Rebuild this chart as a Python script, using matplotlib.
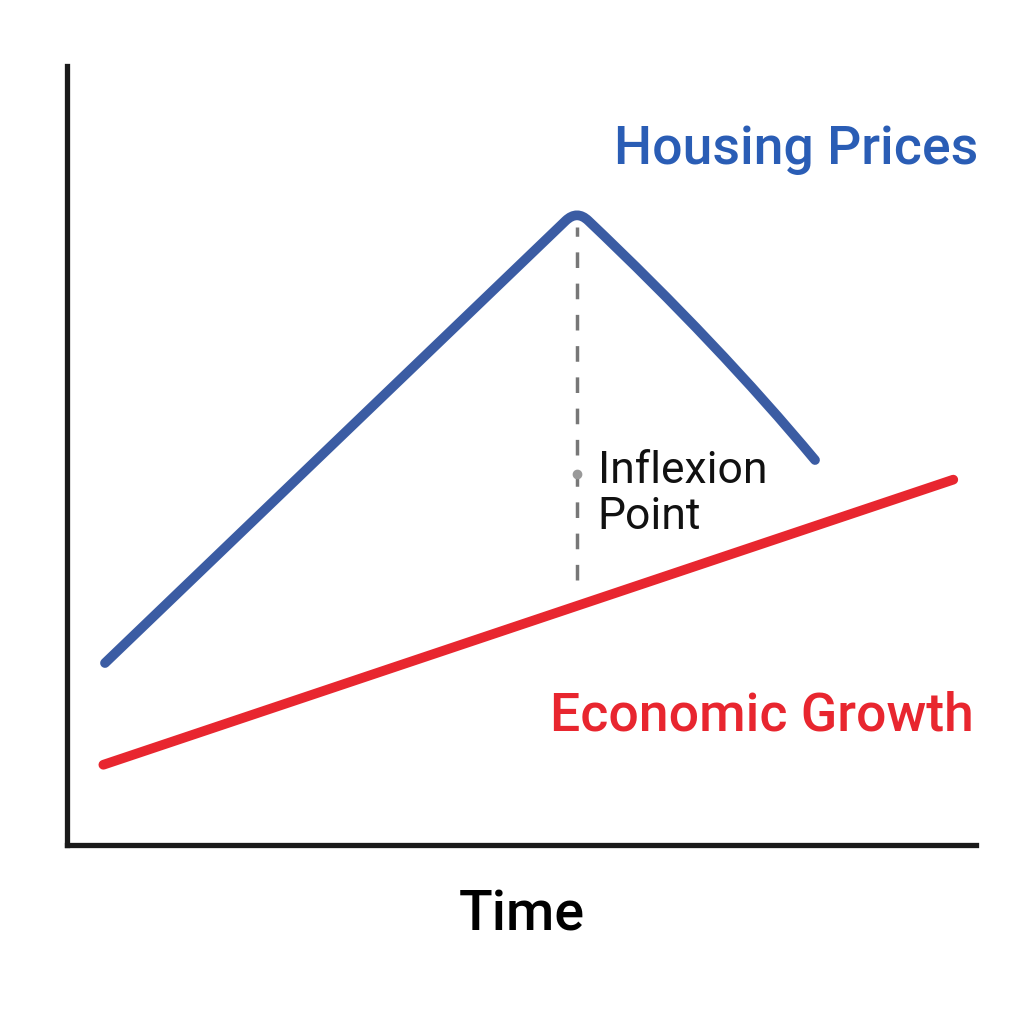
import matplotlib.pyplot as plt
from matplotlib.path import Path
from matplotlib.patches import PathPatch

# housing prices curve (time, value) - straight rise, rounded peak, curved fall
housing_t = [4.18, 54.86, 56.11, 57.35, 71.73, 82.29]
housing_v = [23.36, 80.14, 81.53, 80.14, 64.22, 49.42]
housing_codes = [Path.MOVETO, Path.LINETO, Path.CURVE3, Path.CURVE3,
                 Path.CURVE3, Path.CURVE3]

# economic growth line
growth_t = [4.0, 97.5]
growth_v = [10.3, 46.9]

# inflexion marker
inflex_t = 56.1
inflex_top = 79.3
inflex_bottom = 34.0
inflex_dot = 47.6

plt.rcParams['font.family'] = ['Roboto', 'DejaVu Sans']

fig = plt.figure(figsize=(10.24, 10.24), dpi=100)
ax = fig.add_axes([67/1024, 1-845/1024, (976-67)/1024, (845-66)/1024])
ax.set_xlim(0, 100)
ax.set_ylim(0, 100)

hpath = Path(list(zip(housing_t, housing_v)), housing_codes)
ax.add_patch(PathPatch(hpath, fill=False, edgecolor='#3b5ca3', lw=7,
                       capstyle='round', joinstyle='round'))
ax.plot(growth_t, growth_v, color='#e8262f', lw=7, solid_capstyle='round')

ax.plot([inflex_t, inflex_t], [inflex_bottom, inflex_top], color='#777777',
        lw=2.5, dashes=(4.5, 4.5))
ax.plot(inflex_t, inflex_dot, 'o', color='#999999', ms=6)

ax.text(100.2, 89.3, 'Housing Prices', color='#2a5db5', fontsize=38.5,
        fontweight='medium', ha='right', va='center')
ax.text(99.8, 16.6, 'Economic Growth', color='#e8262f', fontsize=38.5,
        fontweight='medium', ha='right', va='center')
ax.text(58.4, 45.0, 'Inflexion\nPoint', color='#111111', fontsize=32,
        ha='left', va='center', linespacing=1.12)

ax.set_xlabel('Time', fontsize=40, fontweight='medium', labelpad=31)

ax.set_xticks([])
ax.set_yticks([])
for s in ['top', 'right']:
    ax.spines[s].set_visible(False)
for s in ['left', 'bottom']:
    ax.spines[s].set_linewidth(3.8)
    ax.spines[s].set_color('#1a1a1a')

fig.savefig('out.png', dpi=100)
